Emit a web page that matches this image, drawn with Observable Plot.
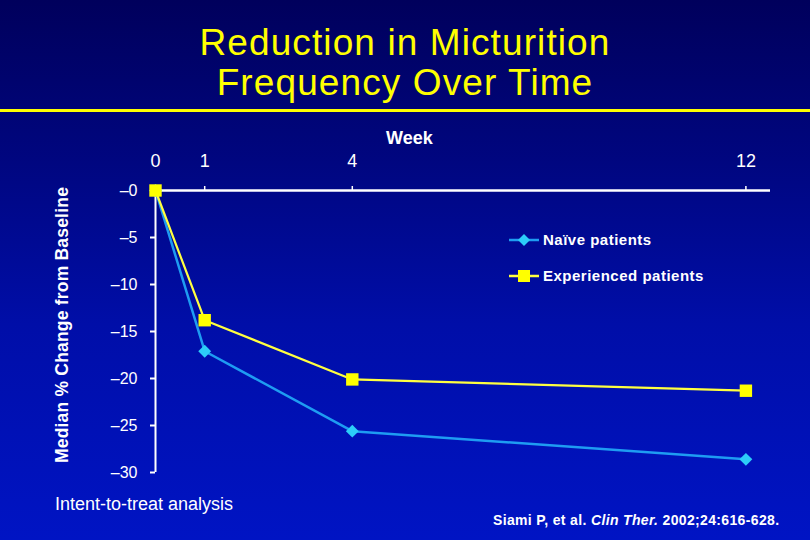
<!DOCTYPE html>
<html>
<head>
<meta charset="utf-8">
<script src="https://cdn.jsdelivr.net/npm/d3@7"></script>
<script src="https://cdn.jsdelivr.net/npm/@observablehq/plot@0.6"></script>
<style>
  html, body { margin: 0; padding: 0; }
  body {
    width: 810px; height: 540px; position: relative; overflow: hidden;
    background: linear-gradient(to bottom, #00005c 0%, #000680 30%, #000ea8 60%, #0014c4 100%);
    font-family: "Liberation Sans", Arial, sans-serif; color: white;
  }
  #title {
    position: absolute; left: 0; top: 23px; width: 810px; text-align: center;
    color: #ffff00; font-size: 37px; line-height: 40px; letter-spacing: 1.1px;
  }
  #rule { position: absolute; left: 0; top: 109px; width: 810px; height: 3px; background: #ffff00; }
  #chart { position: absolute; left: 0; top: 120px; }
  #week { position: absolute; left: 386px; top: 128px; font-size: 18px; font-weight: bold; }
  #ylabel {
    position: absolute; left: 62px; top: 325px; font-size: 17.5px; font-weight: bold;
    white-space: nowrap; transform: translate(-50%, -50%) rotate(-90deg); letter-spacing: 0.2px;
  }
  .leg { position: absolute; left: 509px; font-size: 15px; font-weight: bold; letter-spacing: 0.5px;
         display: flex; align-items: center; }
  .leg svg { margin-right: 4px; }
  #itt { position: absolute; left: 55px; top: 494px; font-size: 18px; }
  #cite { position: absolute; left: 493px; top: 512px; font-size: 14px; font-weight: bold; letter-spacing: 0.35px; }
</style>
</head>
<body>
<div id="title">Reduction in Micturition<br>Frequency Over Time</div>
<div id="rule"></div>
<div id="week">Week</div>
<div id="ylabel">Median % Change from Baseline</div>
<div id="chart"></div>
<div class="leg" id="leg1" style="top:231px"></div>
<div class="leg" id="leg2" style="top:267px"></div>
<div id="itt">Intent-to-treat analysis</div>
<div id="cite">Siami P, et al. <i>Clin Ther.</i> 2002;24:616-628.</div>
<script>
const weeks = [0, 1, 4, 12];
const naive = [0, -17.1, -25.6, -28.6];
const experienced = [0, -13.8, -20.1, -21.3];
const seriesNames = ["Naïve patients", "Experienced patients"];
const xTicks = [0, 1, 4, 12];
const yTicks = [0, -5, -10, -15, -20, -25, -30];

const naiveColor = "#1e9cf2", naiveMarker = "#2ccdf8";
const expColor = "#ffff40", expMarker = "#ffff00";

const naiveRows = weeks.map((w, i) => ({week: w, value: naive[i]}));
const expRows = weeks.map((w, i) => ({week: w, value: experienced[i]}));

const chart = Plot.plot({
  width: 810, height: 420,
  marginTop: 70, marginBottom: 68, marginLeft: 155, marginRight: 40,
  x: {domain: [0, 12.5]},
  y: {domain: [-30, 0]},
  style: {background: "transparent", color: "white", fontFamily: "Liberation Sans, Arial, sans-serif", overflow: "visible"},
  marks: [
    Plot.ruleY([0], {x1: 0, x2: 12.5, stroke: "white", strokeWidth: 2.5}),
    Plot.ruleX([0], {y1: -30, y2: 0, stroke: "white", strokeWidth: 2}),
    Plot.axisX(xTicks, {anchor: "top", tickSize: 5, tickPadding: 19, fontSize: 18, label: null, strokeWidth: 1.5}),
    Plot.axisY(yTicks, {anchor: "left", tickSize: 5, tickPadding: 13, fontSize: 16, label: null, strokeWidth: 2,
      tickFormat: d => "–" + Math.abs(d)}),
    Plot.line(naiveRows, {x: "week", y: "value", stroke: naiveColor, strokeWidth: 2.5}),
    Plot.line(expRows, {x: "week", y: "value", stroke: expColor, strokeWidth: 2.2}),
    Plot.dot(naiveRows, {x: "week", y: "value", symbol: "diamond2", r: 5.8, fill: naiveMarker, stroke: null}),
    Plot.dot(expRows, {x: "week", y: "value", symbol: "square", r: 7, fill: expMarker, stroke: null})
  ]
});
document.getElementById("chart").appendChild(chart);

function legendSymbol(color, markerColor, kind) {
  const ns = "http://www.w3.org/2000/svg";
  const svg = document.createElementNS(ns, "svg");
  svg.setAttribute("width", 30); svg.setAttribute("height", 16);
  const line = document.createElementNS(ns, "line");
  line.setAttribute("x1", 0); line.setAttribute("x2", 30);
  line.setAttribute("y1", 8); line.setAttribute("y2", 8);
  line.setAttribute("stroke", color); line.setAttribute("stroke-width", 2.5);
  svg.appendChild(line);
  const p = document.createElementNS(ns, "path");
  p.setAttribute("d", kind === "diamond" ? "M15,2L21,8L15,14L9,8Z" : "M9,2H21V14H9Z");
  p.setAttribute("fill", markerColor);
  svg.appendChild(p);
  return svg;
}
const l1 = document.getElementById("leg1");
l1.appendChild(legendSymbol(naiveColor, naiveMarker, "diamond"));
l1.appendChild(document.createTextNode(seriesNames[0]));
const l2 = document.getElementById("leg2");
l2.appendChild(legendSymbol(expColor, expMarker, "square"));
l2.appendChild(document.createTextNode(seriesNames[1]));
</script>
</body>
</html>
